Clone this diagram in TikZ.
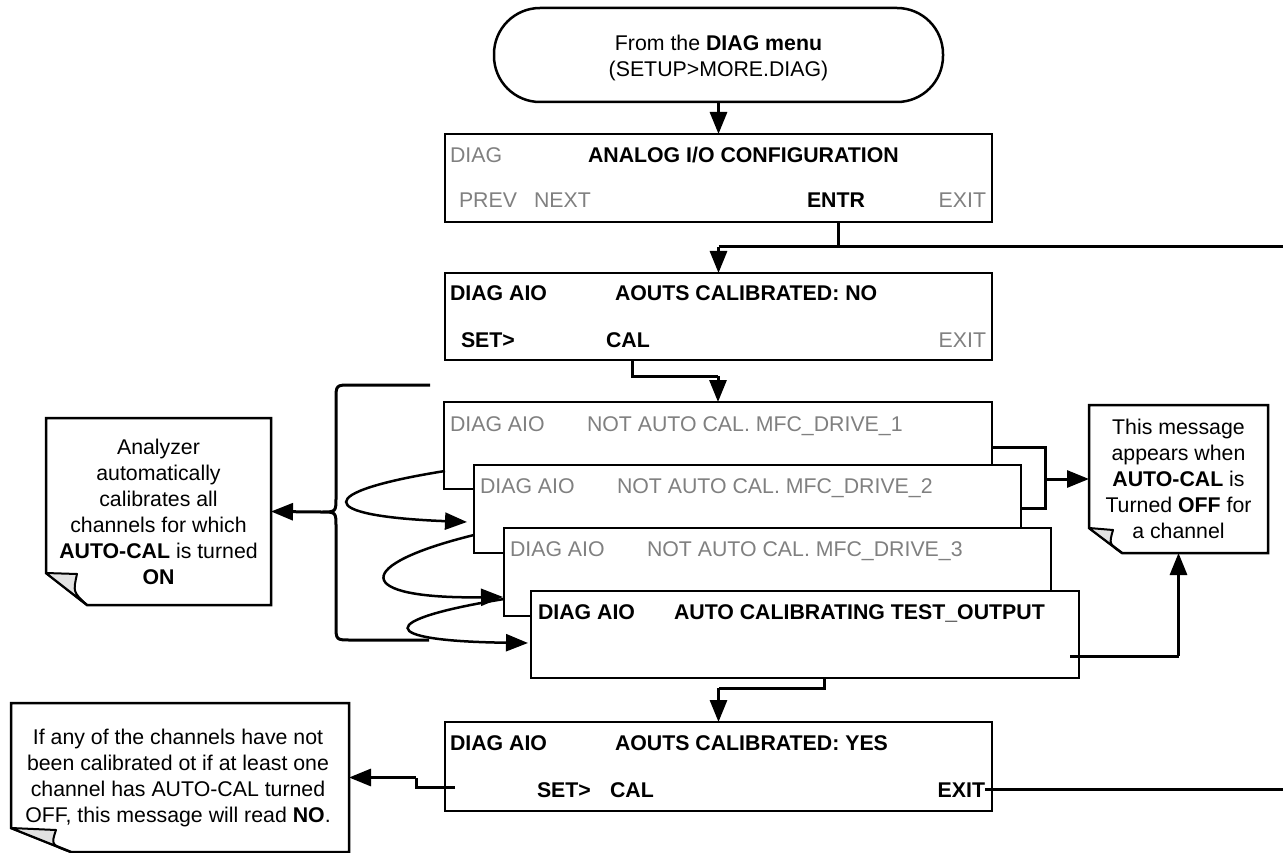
\documentclass[tikz,border=0pt]{standalone}
\usepackage{fontspec}
\setmainfont{Liberation Sans}
\usetikzlibrary{arrows.meta,calc}
\definecolor{gry}{RGB}{128,128,128}
\definecolor{flapgray}{RGB}{226,226,226}
\begin{document}
\begin{tikzpicture}[x=1pt,y=-1pt,
  every node/.style={font=\fontsize{21.3}{26}\selectfont, inner sep=0pt, outer sep=0pt},
  scr/.style={draw, line width=2.5pt, fill=white, anchor=north west, rectangle},
  txt/.style={anchor=base west},
  txe/.style={anchor=base east},
  txc/.style={anchor=base},
  gtxt/.style={text=gry},
  conn/.style={line width=3pt, line join=miter},
  arr/.style={conn, -{Triangle[length=22pt,width=17pt]}},
  carr/.style={line width=2.5pt, -{Triangle[length=22pt,width=17pt]}},
  noteshape/.style={draw, line width=2.5pt, fill=white, line join=miter},
  flap/.style={draw, line width=2pt, fill=flapgray, line join=round},
  notetext/.style={anchor=center, align=center, minimum width=0pt},
]
\useasboundingbox (0,0) rectangle (1283,853);

% ---------- terminal ----------
\node[draw, line width=2.5pt, rounded corners=46pt, minimum width=449, minimum height=94, anchor=north west] (term) at (494,8) {};
\node[txc] (tm1) at (718.5,51) {From the \textbf{DIAG menu}};
\node[txc] (tm2) at (718.5,77) {(SETUP>MORE.DIAG)};

% ---------- box 1 ----------
\node[scr, minimum width=547, minimum height=88] (b1) at (445,134) {};
\node[txt, gtxt] (b1a) at (450,163) {DIAG};
\node[txt] (b1b) at (588,163) {\textbf{ANALOG I/O CONFIGURATION}};
\node[txt, gtxt] (b1c) at (459,208) {PREV};
\node[txt, gtxt] (b1d) at (534,208) {NEXT};
\node[txt] (b1e) at (807,208) {\textbf{ENTR}};
\node[txe, gtxt] (b1f) at (986,208) {EXIT};

% ---------- box 2 ----------
\node[scr, minimum width=547, minimum height=87] (b2) at (445,273) {};
\node[txt] (b2a) at (450,301) {\textbf{DIAG AIO}};
\node[txt] (b2b) at (615,301) {\textbf{AOUTS CALIBRATED: NO}};
\node[txt] (b2c) at (461,347) {\textbf{SET>}};
\node[txt] (b2d) at (606,347) {\textbf{CAL}};
\node[txe, gtxt] (b2e) at (986,347) {EXIT};

% ---------- stacked boxes ----------
\node[scr, minimum width=548, minimum height=87] (b3) at (444,402) {};
\node[txt, gtxt] (b3a) at (450,431) {DIAG AIO};
\node[txt, gtxt] (b3b) at (587,431) {NOT AUTO CAL. MFC\_DRIVE\_1};

\node[scr, minimum width=547, minimum height=88] (b4) at (474,465) {};
\node[txt, gtxt] (b4a) at (480,493) {DIAG AIO};
\node[txt, gtxt] (b4b) at (617,493) {NOT AUTO CAL. MFC\_DRIVE\_2};

\node[scr, minimum width=547, minimum height=88] (b5) at (504,528) {};
\node[txt, gtxt] (b5a) at (510,556) {DIAG AIO};
\node[txt, gtxt] (b5b) at (647,556) {NOT AUTO CAL. MFC\_DRIVE\_3};

\node[scr, minimum width=548, minimum height=87] (b6) at (531,591) {};
\node[txt] (b6a) at (538,619) {\textbf{DIAG AIO}};
\node[txt] (b6b) at (674,619) {\textbf{AUTO CALIBRATING TEST\_OUTPUT}};

% ---------- box 7 ----------
\node[scr, minimum width=547, minimum height=89] (b7) at (445,722) {};
\node[txt] (b7a) at (450,750) {\textbf{DIAG AIO}};
\node[txt] (b7b) at (615,750) {\textbf{AOUTS CALIBRATED: YES}};
\node[txt] (b7c) at (537,797) {\textbf{SET>}};
\node[txt] (b7d) at (610,797) {\textbf{CAL}};
\node[txe] (b7e) at (985,797) {\textbf{EXIT}};

% ---------- notes ----------
\path[noteshape] (46,418) -- (271,418) -- (271,605) -- (87,605) -- (46,573) -- cycle;
\path[flap] (46,573) -- (77,574) .. controls (73,592) .. (87,605) -- cycle;
\node[minimum width=225, minimum height=187, anchor=north west] (nL) at (46,418) {};
\node[notetext] (nLt) at (nL.center) {Analyzer\\automatically\\calibrates all\\channels for which\\\textbf{AUTO-CAL} is turned\\\textbf{ON}};

\path[noteshape] (1089,405) -- (1268,405) -- (1268,553) -- (1122,553) -- (1089,528) -- cycle;
\path[flap] (1089,528) -- (1113,530) .. controls (1109,544) .. (1122,553) -- cycle;
\node[minimum width=179, minimum height=148, anchor=north west] (nR) at (1089,405) {};
\node[notetext] (nRt) at (nR.center) {This message\\appears when\\\textbf{AUTO-CAL} is\\Turned \textbf{OFF} for\\a channel};

\path[noteshape] (11,703) -- (349,703) -- (349,852) -- (71,852) -- (11,828) -- cycle;
\path[flap] (11,828) -- (56,830) .. controls (51,845) .. (71,852) -- cycle;
\node[minimum width=338, minimum height=149, anchor=north west] (nB) at (11,703) {};
\node[notetext] (nBt) at ($(nB.center)+(-2,0)$) {If any of the channels have not\\been calibrated ot if at least one\\channel has AUTO-CAL turned\\OFF, this message will read \textbf{NO}.};

% ---------- coordinates ----------
\coordinate (j1) at (838,247);
\coordinate (offR1) at (1283,247);
\coordinate (calD) at (632,376);
\coordinate (j6) at (824,688);
\coordinate (r1) at (1045,447);
\coordinate (r2) at (1045,508);
\coordinate (c6) at (1070,656);
\coordinate (s7) at (455,787);
\coordinate (k7) at (416,787);
\coordinate (ex7) at (985,789);
\coordinate (offR2) at (1283,789);
\coordinate (braceTop) at (430,385);
\coordinate (braceTip) at (321,512);
\coordinate (braceBot) at (429,640);
\coordinate (c1s) at (445,471);
\coordinate (c1e) at (467,522);
\coordinate (c2s) at (474,535);
\coordinate (c2e) at (503,597);
\coordinate (c3s) at (504,599);
\coordinate (c3e) at (528,643);

% ---------- connectors ----------
\draw[arr] (term.south) -- (b1.north);
\draw[conn] (b1.south -| j1) -- (j1);
\draw[conn] (b2.north |- j1) -- (offR1);
\draw[arr] (b2.north |- j1) -- (b2.north);
\draw[conn] (b2.south -| calD) -- (calD) -- (calD -| b3.north);
\draw[arr] (calD -| b3.north) -- (b3.north);
\draw[conn] (b6.south -| j6) -- (j6) -- (j6 -| b7.north);
\draw[arr] (j6 -| b7.north) -- (b7.north);

\draw[conn] (r1 -| b3.east) -- (r1) -- (r2) -- (r2 -| b4.east);
\draw[arr] (r1 |- nR.west) -- (nR.west);
\draw[conn] (c6) -- (c6 -| nR.south);
\draw[arr] (c6 -| nR.south) -- (nR.south);

\draw[conn] (s7) -- (k7) -- (k7 |- nB.east);
\draw[arr] (k7 |- nB.east) -- (nB.east);
\draw[conn] (ex7) -- (offR2);

% brace
\draw[line width=3pt, line join=round] (braceTop) -- (351,385) .. controls (336,385) .. (336,400) -- (336,497) .. controls (336,512) .. (braceTip) .. controls (336,512) .. (336,527) -- (336,625) .. controls (336,640) .. (351,640) -- (braceBot);
\draw[arr] (braceTip) -- (nL.east);

% looping arrows
\draw[carr] (c1s) .. controls (313,492) and (313,516) .. (c1e);
\draw[carr] (c2s) .. controls (352,565) and (352,599) .. (c2e);
\draw[carr] (c3s) .. controls (375,620) and (375,641) .. (c3e);
\end{tikzpicture}
\end{document}
